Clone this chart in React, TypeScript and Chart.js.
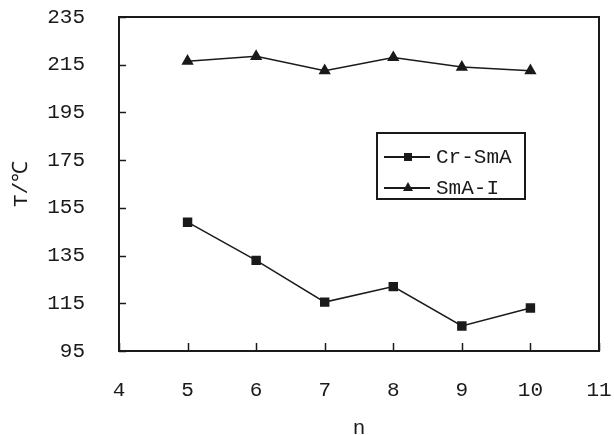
import React, { useEffect, useRef } from "react";
import { Chart, registerables } from "chart.js";

Chart.register(...registerables);

const nValues = [5, 6, 7, 8, 9, 10];
const crSmA = [149, 133, 115.5, 122, 105.5, 113];
const smAI = [216.5, 218.5, 212.5, 218, 214, 212.5];
const seriesNames = ["Cr-SmA", "SmA-I"];
const xTitle = "n";
const yTitle = "T/℃";

const FONT = "'Liberation Mono', 'DejaVu Sans Mono', monospace";
const INK = "#1a1a1a";

const framePlugin = {
  id: "frame",
  afterDraw(chart: any) {
    const { ctx, chartArea: a, scales } = chart;
    ctx.save();
    ctx.strokeStyle = INK;
    ctx.lineWidth = 2;
    ctx.strokeRect(a.left, a.top, a.right - a.left, a.bottom - a.top);
    ctx.lineWidth = 1.5;
    // inward ticks
    const xs = scales.x;
    xs.ticks.forEach((t: any) => {
      const px = Math.round(xs.getPixelForValue(t.value)) + 0.5;
      ctx.beginPath();
      ctx.moveTo(px, a.bottom);
      ctx.lineTo(px, a.bottom - 8);
      ctx.stroke();
    });
    const ys = scales.y;
    ys.ticks.forEach((t: any) => {
      const py = Math.round(ys.getPixelForValue(t.value)) + 0.5;
      ctx.beginPath();
      ctx.moveTo(a.left, py);
      ctx.lineTo(a.left + 7, py);
      ctx.stroke();
    });
    // legend box
    const bx = 377, by = 133, bw = 148, bh = 66;
    ctx.fillStyle = "#fff";
    ctx.fillRect(bx, by, bw, bh);
    ctx.lineWidth = 2;
    ctx.strokeRect(bx, by, bw, bh);
    chart.data.datasets.forEach((ds: any, i: number) => {
      const cy = 157 + i * 31;
      ctx.lineWidth = 2;
      ctx.strokeStyle = INK;
      ctx.beginPath();
      ctx.moveTo(384, cy);
      ctx.lineTo(430, cy);
      ctx.stroke();
      ctx.fillStyle = INK;
      if (ds.pointStyle === "rect") {
        ctx.fillRect(404, cy - 4, 8, 8);
      } else {
        ctx.beginPath();
        ctx.moveTo(408, cy - 6);
        ctx.lineTo(413, cy + 3);
        ctx.lineTo(403, cy + 3);
        ctx.closePath();
        ctx.fill();
      }
      ctx.font = "21px " + FONT;
      ctx.textBaseline = "middle";
      ctx.textAlign = "left";
      ctx.fillText(ds.label, 436, cy);
    });
    ctx.restore();
  },
};

export default function App() {
  const ref = useRef<HTMLCanvasElement>(null);
  useEffect(() => {
    document.body.style.margin = "0";
    const chart = new Chart(ref.current as HTMLCanvasElement, {
      type: "line",
      data: {
        datasets: [
          {
            label: seriesNames[0],
            data: nValues.map((n, i) => ({ x: n, y: crSmA[i] })),
            borderColor: INK,
            backgroundColor: INK,
            borderWidth: 1.5,
            pointStyle: "rect",
            pointRadius: 5.6,
          },
          {
            label: seriesNames[1],
            data: nValues.map((n, i) => ({ x: n, y: smAI[i] })),
            borderColor: INK,
            backgroundColor: INK,
            borderWidth: 1.5,
            pointStyle: "triangle",
            pointRadius: 5.6,
          },
        ],
      },
      options: {
        responsive: false,
        animation: false,
        layout: { padding: { top: 17, right: 15, left: 0, bottom: 0 } },
        plugins: { legend: { display: false }, tooltip: { enabled: false } },
        scales: {
          x: {
            type: "linear",
            min: 4,
            max: 11,
            afterFit: (s: any) => {
              s.height = 84;
              s.paddingLeft = 0;
              s.paddingRight = 0;
            },
            ticks: { stepSize: 1, color: INK, padding: 27, font: { family: FONT, size: 21 } },
            grid: { display: false, drawTicks: false },
            border: { display: false },
            title: {
              display: true,
              text: xTitle,
              color: INK,
              padding: 0,
              font: { family: FONT, size: 21, lineHeight: 0.6 },
            },
          },
          y: {
            type: "linear",
            min: 95,
            max: 235,
            afterFit: (s: any) => {
              s.width = 119;
              s.paddingTop = 0;
              s.paddingBottom = 0;
            },
            ticks: { stepSize: 20, color: INK, padding: 34, font: { family: FONT, size: 21 } },
            grid: { display: false, drawTicks: false },
            border: { display: false },
            title: {
              display: true,
              text: yTitle,
              color: INK,
              padding: { top: 9, bottom: 0 },
              font: { family: FONT, size: 21, lineHeight: 1.2 },
            },
          },
        },
      },
      plugins: [framePlugin],
    } as any);
    return () => chart.destroy();
  }, []);
  return <canvas ref={ref} width={614} height={435} style={{ display: "block" }} />;
}
